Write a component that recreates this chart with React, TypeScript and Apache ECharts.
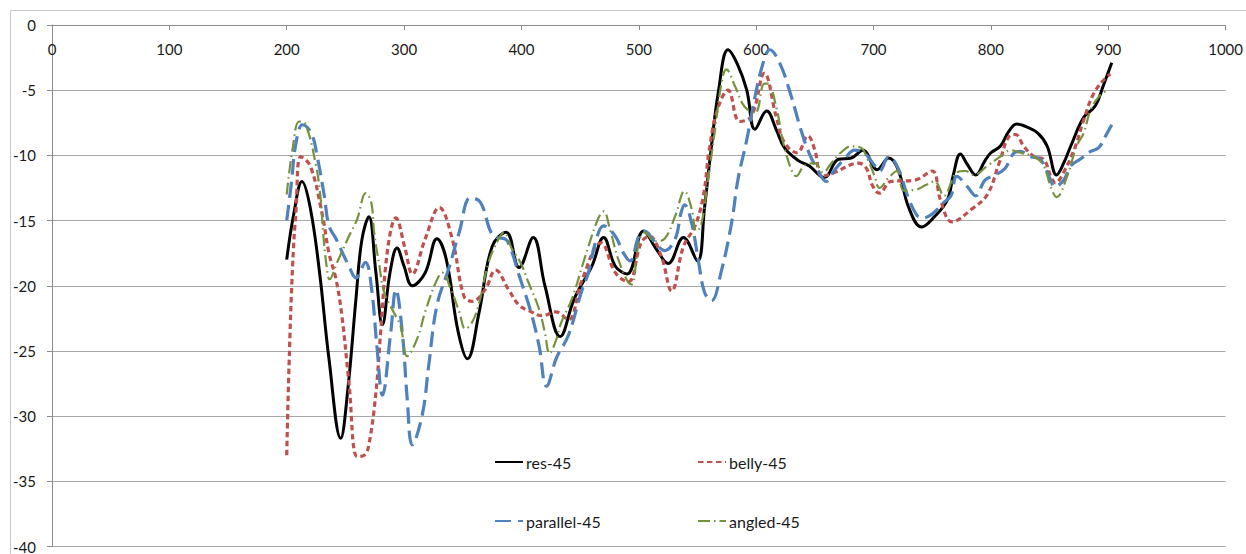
import React, { useEffect, useRef } from "react";
import * as echarts from "echarts";

const xTicks = [0, 1000, 100];
const yTicks = [-40, 0, 5];

const resX = [200,206,213,220,228,236,246,252,259,264,270,276,281.5,288,294,300,307,318,328,336,346,354,364,375,387,398,410,420,433,445,460,470,480,490,504,515,525,538,550,556,561,568,576,584,592,599,609,617,624,636,645,658,670,681,691,703,713,721,730,741,752,763,768,774,780,787,795,800,808,815,822,830,840,848,856,862,868,879,889,896,903];
const resY = [-18.0,-14.5,-12.0,-14,-19,-25.6,-31.7,-28,-21,-16.5,-14.7,-19,-23,-19,-17.1,-18.5,-20,-19,-16.4,-18,-23.5,-25.6,-22,-17,-15.9,-18.6,-16.3,-20,-23.9,-21,-18.5,-16.3,-18.5,-19.1,-15.8,-17.2,-18.3,-16.3,-18.1,-14,-10,-5,-1.9,-3,-5,-8.0,-6.6,-8,-9.4,-10.4,-10.8,-11.7,-10.3,-10.2,-9.6,-11.1,-10.2,-11.1,-14,-15.5,-14.7,-13.4,-11.5,-9.9,-10.7,-11.5,-10.4,-9.8,-9.3,-8.2,-7.6,-7.8,-8.3,-9.3,-11.5,-10.6,-9.3,-7.1,-6.2,-4.6,-2.9];

const bellyX = [200,202,205,208,212,220,230,236,242,247,253,260,266,270,276,280,286,293,301,307,318,330,341,351,358,369,378,389,398,406,418,429,440,451,468,480,491,502,509,519,528,538,548,555,560,567,576,586,596,607,617,624,635,644,650,656,667,687,694,699,705,715,735,750,757,767,784,797,807,816,821,828,837,845,851,855,862,872,879,888,899,902];
const bellyY = [-33.0,-26,-18.5,-14.1,-10.1,-10.8,-14.4,-17.5,-19.5,-22.3,-27.4,-33.1,-33,-32.2,-28.2,-23.6,-17.2,-14.8,-17.2,-19.1,-16.4,-14.0,-16.4,-20.8,-21.2,-20.3,-18.8,-20.3,-21.5,-21.9,-22.3,-22.0,-22.6,-19.7,-16.7,-19,-19.7,-16.7,-16.2,-17.7,-20.4,-17,-15.4,-13.1,-9.6,-6.5,-5.0,-7.4,-7.0,-3.7,-7,-9.0,-9.8,-8.5,-9.6,-11.6,-11.3,-10.6,-11,-12.3,-12.9,-12,-11.9,-11.2,-13.4,-15.1,-14.1,-13,-10.6,-8.5,-8.4,-9.3,-10.1,-10.3,-11.6,-12.1,-11.3,-9.3,-7.3,-5.2,-3.95,-3.8];

const parallelX = [200,204,208,213.5,221,226,232,236,242,253,259,267,272,277,281.5,288.6,293,298.5,302.7,307,315.5,321,328,338,347,356.6,365,374,379,386,391,398,408,415,421.4,430,440,451,457,463,470,480,487,492.5,500,505,514,522,531,536,539,545,551,556,562,570,579,584.5,592,599,606,611.5,620,630,638,645,652.5,659.6,667,675,684,692,701,705,713,721,729,737,742,750,760,766,771,780,787,795,804,812,820,825,834,842,851,854,862,868,876,885,892,899,903];
const parallelY = [-15.0,-12.1,-9.0,-7.65,-8.3,-10.1,-13.1,-15.4,-16.4,-18.5,-19.4,-18.2,-20,-24.8,-28.4,-23.6,-20.3,-23.6,-28.7,-32.2,-29.9,-26.1,-21.5,-18.7,-15.9,-13.25,-13.6,-15.9,-16.3,-16.4,-17.2,-19.2,-22,-24.6,-27.7,-25.5,-23.8,-20.5,-19,-16.7,-15.4,-16.2,-17.5,-18.1,-16.2,-15.8,-16.7,-17.3,-16.4,-14.4,-13.8,-15.2,-18.2,-20.5,-21.15,-19,-15.2,-11.85,-8.8,-5.5,-2.9,-1.9,-2.9,-5.5,-8.0,-9.8,-11.1,-12,-11.1,-10.3,-9.6,-9.8,-10.8,-11.2,-10.1,-11,-13.1,-14.6,-14.8,-14.5,-13.6,-13.1,-11.6,-12.4,-13.1,-11.9,-11.5,-11,-9.8,-9.7,-10.1,-10.3,-11.9,-12.4,-11.9,-10.8,-10.3,-9.7,-9.4,-8.3,-7.65];

const angledX = [200,205,210.7,216,225,229,231,234,236.5,243,253,260,267.4,272,274.5,279,283,291,297,302.7,311,318,327,332.5,340,347,352.3,358,364,372,380.6,385,392,399,406,415,420,424,429,434,443,452.8,457,465.6,470,475.5,482.6,491,494,500,505,514,522,531,539,545,549,553,559,565,570,574.6,582,590,599,607,610,617,623,630,634,641,650,657,664,672,681,689,695,701,705,713,720,726,737,744,752,760,771,778.5,785.5,797,808,817,825,837,845,851,856,865,873,879,885,892,899];
const angledY = [-13.0,-9.5,-7.4,-7.6,-10.8,-13.4,-15.9,-18.5,-19.5,-18.2,-16.2,-14.9,-12.9,-13.6,-15.9,-18.5,-20.5,-22,-23.1,-25.4,-24.1,-22,-19.75,-19,-20.3,-22,-23.3,-22.8,-21.3,-18.2,-16.4,-15.9,-17.2,-18.2,-19.75,-21.8,-23.6,-25.2,-24.3,-22.8,-21,-18.2,-17,-14.8,-14.3,-15.7,-18,-19.75,-19.9,-16.7,-15.9,-16.6,-16.4,-14.65,-12.75,-14.1,-15.8,-15.4,-11.85,-8.0,-4.7,-3.4,-4.7,-6.25,-6.75,-4.5,-4.5,-6.25,-9.0,-11.1,-11.6,-10.8,-10.6,-11.3,-10.6,-9.8,-9.3,-9.4,-10.3,-11.6,-12.5,-11.7,-11.2,-12.7,-12.6,-12.3,-12,-13.1,-11.3,-11.2,-11.5,-10.8,-10.1,-9.6,-9.8,-10.1,-10.8,-12.4,-13.2,-11.6,-9.3,-8.3,-6.5,-5.5,-5];

const seriesNames = ["res-45", "belly-45", "parallel-45", "angled-45"];
const seriesColors = ["#000000", "#c0504d", "#4f81bd", "#76923c"];

const zip = (xs: number[], ys: number[]) => xs.map((x, i) => [x, ys[i]]);

export default function App() {
  const ref = useRef<HTMLDivElement>(null);
  useEffect(() => {
    if (!ref.current) return;
    const chart = echarts.init(ref.current, undefined, { renderer: "svg" });
    const font = "Lato, 'Noto Sans', sans-serif";
    const lineStyles: any[] = [
      { width: 3, type: "solid" },
      { width: 3.2, type: [5.5, 3.5], cap: "butt" },
      { width: 3.2, type: [16, 7], cap: "butt" },
      { width: 2.2, type: [12, 4, 1.5, 4], cap: "butt" },
    ];
    const datas = [zip(resX, resY), zip(bellyX, bellyY), zip(parallelX, parallelY), zip(angledX, angledY)];
    const legendPos = [
      { left: 494, top: 454 },
      { left: 697, top: 454 },
      { left: 494, top: 513 },
      { left: 697, top: 513 },
    ];
    chart.setOption({
      animation: false,
      backgroundColor: "#ffffff",
      textStyle: { fontFamily: font },
      grid: { left: 52, top: 25, right: 17, bottom: 6, containLabel: false },
      graphic: [
        {
          type: "rect",
          z: -10,
          shape: { x: 10.5, y: 10.5, width: 1250, height: 560 },
          style: { fill: "none", stroke: "#c8c8c8", lineWidth: 1 },
          silent: true,
        },
      ],
      xAxis: {
        type: "value",
        position: "top",
        min: xTicks[0],
        max: xTicks[1],
        interval: xTicks[2],
        axisLine: { show: true, onZero: false, lineStyle: { color: "#8c8c8c", width: 1 } },
        axisTick: { show: true, inside: true, length: 5, lineStyle: { color: "#8c8c8c" } },
        axisLabel: {
          inside: true,
          margin: 16,
          color: "#1a1a1a",
          fontSize: 15,
          fontFamily: font,
          formatter: (v: number) => String(v),
        },
        splitLine: { show: false },
      },
      yAxis: {
        type: "value",
        min: yTicks[0],
        max: yTicks[1],
        interval: yTicks[2],
        axisLine: { show: true, onZero: false, lineStyle: { color: "#8c8c8c", width: 1 } },
        axisTick: { show: true, inside: false, length: 5, lineStyle: { color: "#8c8c8c" } },
        axisLabel: { margin: 16, color: "#1a1a1a", fontSize: 15, fontFamily: font },
        splitLine: { show: true, lineStyle: { color: "#a8a8a8", width: 1.2 } },
      },
      legend: seriesNames.map((n, i) => ({
        data: [n],
        left: legendPos[i].left,
        top: legendPos[i].top,
        itemWidth: 28,
        itemHeight: 14,
        itemGap: 0,
        padding: 0,
        itemStyle: { opacity: 0 },
        textStyle: { fontSize: 16, color: "#1a1a1a", fontFamily: font, padding: [0, 0, 0, -2] },
      })),
      series: seriesNames.map((n, i) => ({
        name: n,
        type: "line",
        data: datas[i],
        smooth: 0.4,
        symbol: "none",
        showSymbol: false,
        color: seriesColors[i],
        lineStyle: { color: seriesColors[i], ...lineStyles[i] },
      })),
    });
    return () => chart.dispose();
  }, []);
  return (
    <div
      ref={ref}
      style={{ position: "fixed", left: 0, top: 0, width: 1246, height: 554, background: "#fff" }}
    />
  );
}
